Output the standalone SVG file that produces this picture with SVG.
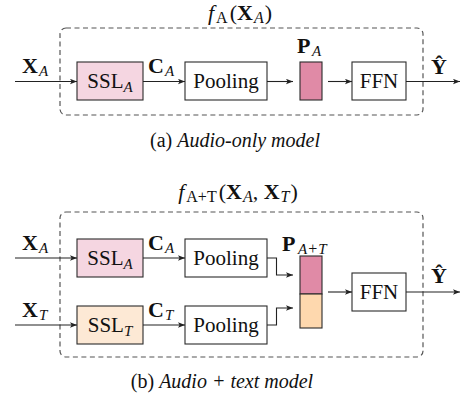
<svg xmlns="http://www.w3.org/2000/svg" width="466" height="403" viewBox="0 0 466 403">
<defs>
<marker id="ah" markerWidth="8" markerHeight="6" refX="7" refY="3" orient="auto" markerUnits="userSpaceOnUse">
<path d="M0,0.3 L7,3 L0,5.7 L1.6,3 z" fill="#222"/>
</marker>
<style>
text{font-family:"Liberation Serif","Times New Roman",serif;fill:#111}
.n{font-size:21px}
.m{font-size:22px;font-weight:bold}
.s{font-size:15px;font-style:italic;font-weight:normal}
.r{font-size:16px;font-style:normal;font-weight:normal}
.i{font-style:italic}
.b{font-weight:bold;font-size:22px}
.ti{font-size:22px}
.ts{font-size:16px;font-style:italic;font-weight:normal}
.cap{font-size:20px}
.box{fill:#fff;stroke:#2a2a2a;stroke-width:1.1}
.ssla{fill:#f5d6e1}
.sslt{fill:#fde9d5}
.pa{fill:#e08aa6;stroke:#2a2a2a;stroke-width:1.1}
.pt{fill:#fed8ae;stroke:#2a2a2a;stroke-width:1.1}
.dash{fill:none;stroke:#555;stroke-width:1.2;stroke-dasharray:5 3.5}
.ar{fill:none;stroke:#222;stroke-width:1.1;marker-end:url(#ah)}
</style>
</defs>

<!-- Panel (a) -->
<g id="frame-a">
<rect class="dash" x="60" y="28" width="363" height="87" rx="6"/>
<text class="ti" x="240" y="20" text-anchor="middle"><tspan class="i">f</tspan><tspan class="r" dx="2" dy="3">A</tspan><tspan dx="2" dy="-3">(</tspan><tspan class="b">X</tspan><tspan class="ts" dx="1" dy="3">A</tspan><tspan dx="1" dy="-3">)</tspan></text>
</g>
<g id="ssl-a">
<rect class="box ssla" x="77" y="62" width="66" height="38"/>
<text class="n" x="110" y="88" text-anchor="middle">SSL<tspan class="s" dy="4">A</tspan></text>
</g>
<g id="pool-a">
<rect class="box" x="185" y="62" width="82" height="38"/>
<text class="n" x="226" y="88" text-anchor="middle">Pooling</text>
</g>
<g id="p-a">
<rect class="pa" x="300" y="62" width="22" height="38"/>
<text class="m" y="53"><tspan x="297">P</tspan><tspan class="s" x="312" y="56">A</tspan></text>
</g>
<g id="ffn-a">
<rect class="box" x="352" y="62" width="54" height="38"/>
<text class="n" x="379" y="88" text-anchor="middle">FFN</text>
</g>
<g id="labels-a">
<text class="m" y="73"><tspan x="22">X</tspan><tspan class="s" x="39" y="76">A</tspan></text>
<text class="m" y="73"><tspan x="148">C</tspan><tspan class="s" x="165" y="76">A</tspan></text>
<text class="m" x="439" y="74" text-anchor="middle">Ŷ</text>
</g>
<g id="connectors-a">
<path class="ar" d="M15,81.5 H77"/>
<path class="ar" d="M143,81.5 H185"/>
<path class="ar" d="M267,81.5 H293"/>
<path class="ar" d="M328,81.5 H352"/>
<path class="ar" d="M406,81.5 H460"/>
</g>
<text class="cap" x="235" y="147" text-anchor="middle">(a) <tspan class="i">Audio-only model</tspan></text>

<!-- Panel (b) -->
<g id="frame-b">
<rect class="dash" x="60" y="212" width="363" height="145" rx="6"/>
<text class="ti" x="238" y="199" text-anchor="middle"><tspan class="i">f</tspan><tspan class="r" dx="2" dy="3">A+T</tspan><tspan dx="2" dy="-3">(</tspan><tspan class="b">X</tspan><tspan class="ts" dx="1" dy="3">A</tspan><tspan dy="-3">, </tspan><tspan class="b">X</tspan><tspan class="ts" dx="1" dy="3">T</tspan><tspan dx="1" dy="-3">)</tspan></text>
</g>
<g id="ssl-a-b">
<rect class="box ssla" x="77" y="239" width="66" height="38"/>
<text class="n" x="110" y="265" text-anchor="middle">SSL<tspan class="s" dy="4">A</tspan></text>
</g>
<g id="ssl-t-b">
<rect class="box sslt" x="77" y="306" width="66" height="38"/>
<text class="n" x="110" y="332" text-anchor="middle">SSL<tspan class="s" dy="4">T</tspan></text>
</g>
<g id="pool-a-b">
<rect class="box" x="185" y="239" width="82" height="38"/>
<text class="n" x="226" y="265" text-anchor="middle">Pooling</text>
</g>
<g id="pool-t-b">
<rect class="box" x="185" y="306" width="82" height="38"/>
<text class="n" x="226" y="332" text-anchor="middle">Pooling</text>
</g>
<g id="p-at">
<rect class="pa" x="300" y="256" width="22" height="38"/>
<rect class="pt" x="300" y="294" width="22" height="34"/>
<text class="m" y="251"><tspan x="282">P</tspan><tspan class="s" x="298" y="254">A</tspan><tspan class="r" dx="1">+</tspan><tspan class="s" dx="1">T</tspan></text>
</g>
<g id="ffn-b">
<rect class="box" x="352" y="273" width="54" height="38"/>
<text class="n" x="379" y="299" text-anchor="middle">FFN</text>
</g>
<g id="labels-b">
<text class="m" y="250"><tspan x="22">X</tspan><tspan class="s" x="39" y="253">A</tspan></text>
<text class="m" y="250"><tspan x="148">C</tspan><tspan class="s" x="165" y="253">A</tspan></text>
<text class="m" y="317"><tspan x="22">X</tspan><tspan class="s" x="39" y="320">T</tspan></text>
<text class="m" y="317"><tspan x="148">C</tspan><tspan class="s" x="165" y="320">T</tspan></text>
<text class="m" x="439" y="283" text-anchor="middle">Ŷ</text>
</g>
<g id="connectors-b">
<path class="ar" d="M15,258 H77"/>
<path class="ar" d="M15,325 H77"/>
<path class="ar" d="M143,258 H185"/>
<path class="ar" d="M143,325 H185"/>
<path class="ar" d="M267,258 H276.5 V275 H293"/>
<path class="ar" d="M267,325 H276.5 V308 H293"/>
<path class="ar" d="M328,292 H352"/>
<path class="ar" d="M406,292 H460"/>
</g>
<text class="cap" x="222" y="388" text-anchor="middle">(b) <tspan class="i">Audio + text model</tspan></text>
</svg>
